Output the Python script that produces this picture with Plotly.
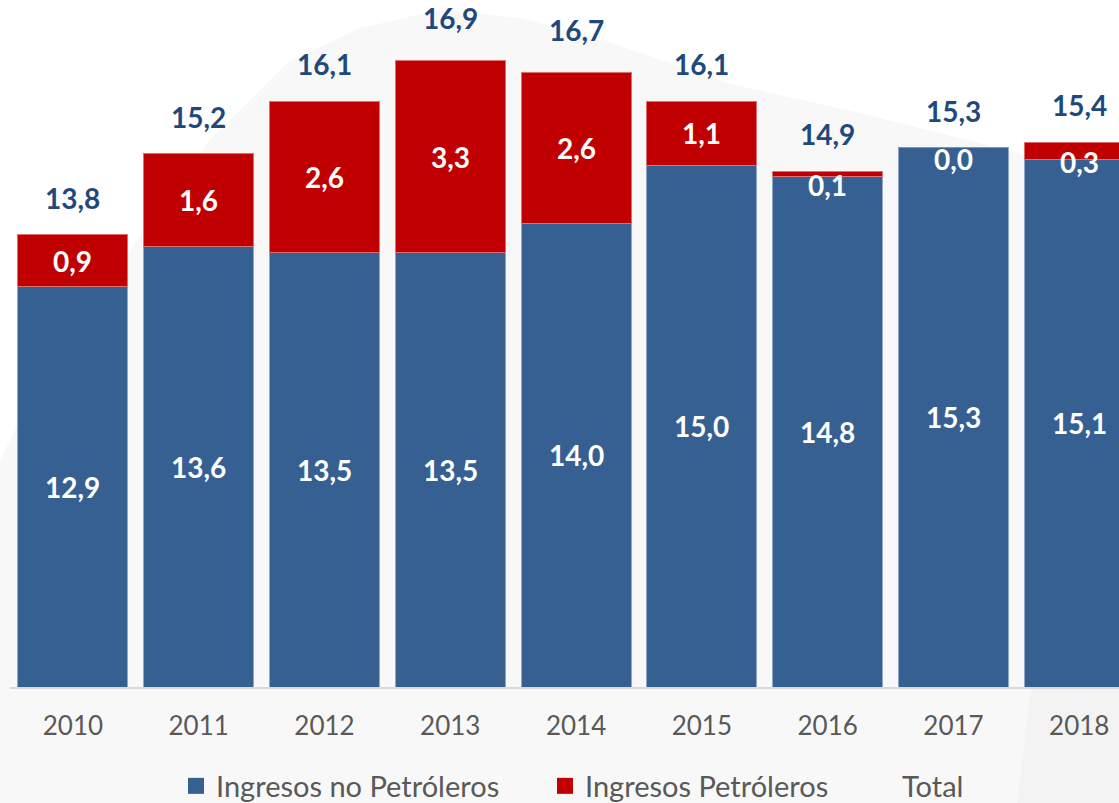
import plotly.graph_objects as go

years = ["2010", "2011", "2012", "2013", "2014", "2015", "2016", "2017", "2018"]
no_petroleros = [12.9, 13.6, 13.5, 13.5, 14.0, 15.0, 14.8, 15.3, 15.1]
petroleros = [0.9, 1.6, 2.6, 3.3, 2.6, 1.1, 0.1, 0.0, 0.3]
total = [13.8, 15.2, 16.1, 16.9, 16.7, 16.1, 14.9, 15.3, 15.4]

BLUE = "#376092"
RED = "#C00000"
NAVY = "#1F497D"
GRAY_TXT = "#595959"
FONT = "Lato"

W, H = 1119, 803
ML, MR, MT, MB = 10, 0, 0, 116
Y_MIN, Y_MAX = 6.0, 17.85
PW = W - ML - MR


def fmt(v):
    return f"{v:.1f}".replace(".", ",")


def pp(px, py):
    """pixel -> paper coords (for decorative background shape / legend placement)"""
    return (px - ML) / PW, (H - MB - py) / (H - MT - MB)


fig = go.Figure()

fig.add_trace(go.Bar(
    x=years, y=no_petroleros, name="Ingresos no Petróleros",
    marker=dict(color=BLUE, line=dict(color="#8FA8CC", width=1)),
    showlegend=False, hoverinfo="skip",
))
fig.add_trace(go.Bar(
    x=years, y=petroleros, name="Ingresos Petróleros",
    marker=dict(color=RED, line=dict(color="#E07070", width=1)),
    showlegend=False, hoverinfo="skip",
))

# legend entries (one legend each, so spacing can follow the reference)
fig.add_trace(go.Scatter(x=[None], y=[None], mode="markers", name="Ingresos no Petróleros",
                         marker=dict(symbol="square", size=16, color=BLUE), legend="legend"))
fig.add_trace(go.Scatter(x=[None], y=[None], mode="markers", name="Ingresos Petróleros",
                         marker=dict(symbol="square", size=16, color=RED), legend="legend2"))
fig.add_trace(go.Scatter(x=[None], y=[None], mode="lines", name="Total",
                         line=dict(color="rgba(0,0,0,0)", width=0), legend="legend3"))

ann = []
lab_font = dict(family=FONT, size=28, color="white", weight="bold")
for i, (b, r, t) in enumerate(zip(no_petroleros, petroleros, total)):
    ann.append(dict(x=i, y=(max(Y_MIN, 0) + b) / 2, text=fmt(b), showarrow=False,
                    font=lab_font))
    ann.append(dict(x=i, y=b + r / 2, text=fmt(r), showarrow=False,
                    yshift=-11 if r < 0.5 else 0, font=lab_font))
    ann.append(dict(x=i, y=t, text=fmt(t), showarrow=False, yanchor="bottom", yshift=18,
                    font=dict(family=FONT, size=28, color=NAVY, weight="bold")))

# decorative background blob
pts = [(0, 803), (0, 460), (40, 380), (90, 300), (143, 233), (210, 140), (287, 63),
       (360, 28), (440, 10), (520, 18), (603, 40), (727, 83), (860, 113),
       (1007, 150), (1119, 185), (1119, 803)]
path = "M " + " L ".join(f"{pp(x, y)[0]:.4f},{pp(x, y)[1]:.4f}" for x, y in pts) + " Z"
pts2 = [(1031, 687), (1119, 500), (1119, 803), (1017, 803)]
path2 = "M " + " L ".join(f"{pp(x, y)[0]:.4f},{pp(x, y)[1]:.4f}" for x, y in pts2) + " Z"
shapes = [
    dict(type="path", path=path, xref="paper", yref="paper", layer="below",
         fillcolor="#F8F8F8", line=dict(width=0)),
    dict(type="path", path=path2, xref="paper", yref="paper", layer="below",
         fillcolor="#F3F3F3", line=dict(width=0)),
]

leg_common = dict(orientation="h", yanchor="middle", xanchor="left",
                  font=dict(family=FONT, size=29, color=GRAY_TXT), bgcolor="rgba(0,0,0,0)")
LEG_Y = pp(0, 786)[1]

fig.update_layout(
    width=W, height=H, autosize=False,
    margin=dict(l=ML, r=MR, t=MT, b=MB, autoexpand=False),
    paper_bgcolor="white", plot_bgcolor="rgba(0,0,0,0)",
    barmode="stack", bargap=0.126,
    font=dict(family=FONT, color=GRAY_TXT),
    xaxis=dict(type="category", range=[-0.5, 8.316], showline=True, linecolor="#D9D9D9",
               linewidth=1.5, showgrid=False, ticks="", ticklabelstandoff=15,
               tickfont=dict(family=FONT, size=26, color=GRAY_TXT)),
    yaxis=dict(range=[Y_MIN, Y_MAX], showgrid=False, zeroline=False, showticklabels=False,
               showline=False),
    legend=dict(x=pp(176, 0)[0], y=LEG_Y, **leg_common),
    legend2=dict(x=pp(545, 0)[0], y=LEG_Y, **leg_common),
    legend3=dict(x=pp(862, 0)[0], y=LEG_Y, **leg_common),
    annotations=ann, shapes=shapes,
)

fig.write_html("out.html", config={"displayModeBar": False},
               post_script="document.body.style.margin='0';document.body.style.overflow='hidden';")
